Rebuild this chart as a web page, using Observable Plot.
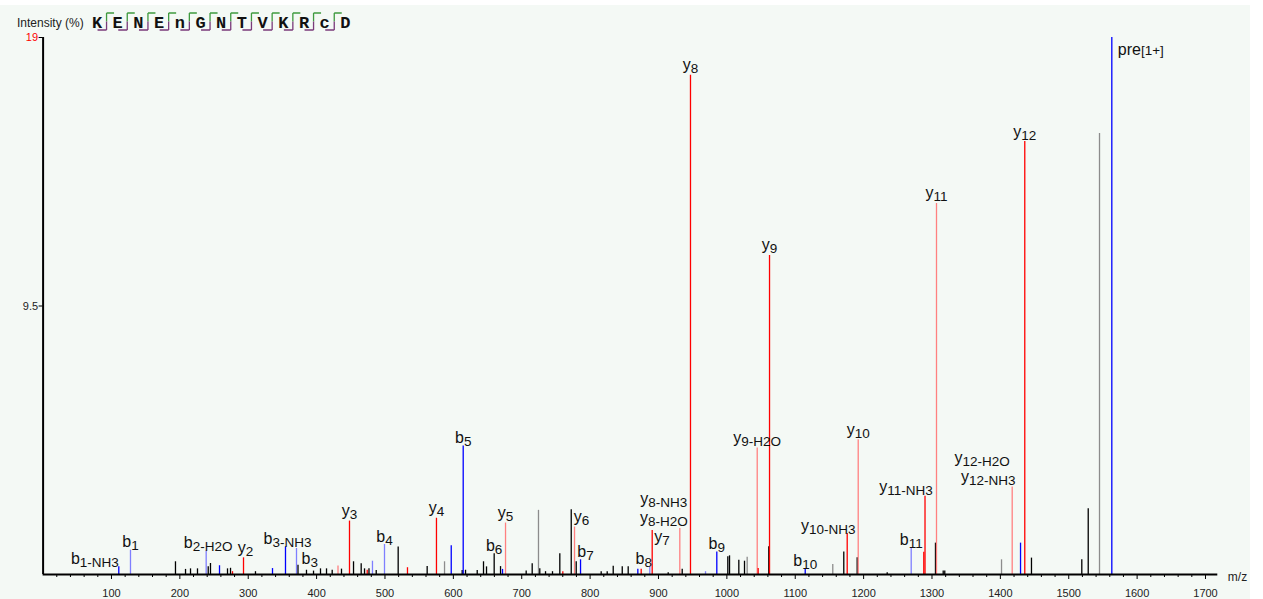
<!DOCTYPE html>
<html>
<head>
<meta charset="utf-8">
<script src="https://cdn.jsdelivr.net/npm/d3@7"></script>
<script src="https://cdn.jsdelivr.net/npm/@observablehq/plot@0.6"></script>
<style>
  html, body { margin: 0; padding: 0; background: #ffffff; }
  #wrap { position: relative; width: 1263px; height: 599px; overflow: hidden; }
  #panel { position: absolute; left: 0; top: 5px; width: 1250px; height: 594px; background: #f4f9f5; }
  #chart { position: absolute; left: 0; top: 0; }
  #head { position: absolute; left: 0; top: 0; }
</style>
</head>
<body>
<div id="wrap">
  <div id="panel"></div>
  <div id="chart"></div>
  <svg id="head" width="420" height="36"></svg>
</div>
<script>
// Peptide sequence shown in the header
const residues = ["K", "E", "N", "E", "n", "G", "N", "T", "V", "K", "R", "c", "D"];

// Spectrum peaks: m/z, relative intensity (%), ion kind
// kinds: y = y-ion, yl = y-ion (secondary), b = b-ion, bl = b-ion (secondary), k = unassigned, g = unassigned (weak)
const peakMz = [
  110.7, 127.8, 193.6, 208.3, 215.6, 225.8, 238.5, 241.5, 244.8, 258.0,
  269.7, 274.1, 277.0, 293.1, 310.6, 335.5, 354.5, 370.6, 372.8, 385.2,
  395.5, 405.7, 414.5, 422.8, 431.3, 436.4, 448.1, 454.0, 465.2, 470.1,
  474.0, 476.6, 481.7, 487.2, 499.3, 519.3, 532.9, 561.7, 575.3, 587.1,
  596.9, 612.9, 614.4, 617.8, 634.9, 644.1, 648.5, 659.7, 669.0, 671.9,
  676.3, 706.5, 715.3, 724.5, 726.4, 734.8, 745.0, 755.7, 760.1, 772.4,
  777.2, 779.7, 786.0, 816.2, 825.0, 833.8, 847.0, 855.7, 869.8, 874.7,
  887.3, 890.8, 914.2, 931.2, 934.7, 946.8, 968.8, 985.3, 1001.4, 1003.9,
  1017.5, 1025.8, 1029.7, 1044.4, 1045.8, 1061.3, 1062.4, 1114.6, 1154.9, 1171.0,
  1176.0, 1190.6, 1192.1, 1234.5, 1269.6, 1288.0, 1289.8, 1305.1, 1306.6, 1316.4,
  1318.7, 1401.7, 1417.3, 1429.5, 1435.7, 1445.5, 1519.1, 1528.5, 1545.0, 1563.0
];
const peakIntensity = [
  0.27, 0.86, 0.45, 0.18, 0.20, 0.20, 0.83, 0.27, 0.39, 0.31,
  0.20, 0.22, 0.10, 0.59, 0.10, 0.21, 0.98, 0.92, 0.33, 0.15,
  0.12, 0.20, 0.20, 0.15, 0.30, 0.19, 1.89, 0.45, 0.38, 0.20,
  0.15, 0.20, 0.47, 0.14, 1.06, 0.97, 0.24, 0.28, 1.99, 0.45,
  1.02, 0.14, 4.55, 0.15, 0.14, 0.45, 0.27, 0.73, 0.28, 0.18,
  1.82, 0.12, 0.38, 2.27, 0.20, 0.10, 0.10, 0.73, 0.10, 2.29,
  1.68, 0.45, 0.52, 0.10, 0.10, 0.29, 0.27, 0.27, 0.19, 0.19,
  0.27, 1.56, 0.06, 1.63, 0.19, 17.66, 0.10, 0.80, 0.63, 0.66,
  0.50, 0.47, 0.61, 4.48, 0.21, 0.98, 11.29, 0.18, 0.35, 0.80,
  1.45, 0.59, 4.77, 0.06, 0.95, 0.79, 2.77, 1.11, 13.13, 0.12,
  0.12, 0.52, 3.10, 1.11, 15.32, 0.58, 0.52, 2.33, 15.60, 19.00
];
const peakKind = [
  "b", "bl", "k", "k", "k", "k", "bl", "k", "k", "b",
  "k", "k", "y", "y", "k", "b", "b", "bl", "k", "k",
  "k", "k", "k", "k", "yl", "k", "y", "k", "k", "k",
  "y", "k", "bl", "k", "bl", "k", "y", "k", "y", "g",
  "b", "k", "b", "k", "k", "k", "k", "k", "k", "b",
  "yl", "k", "k", "g", "k", "k", "k", "k", "y", "k",
  "yl", "k", "b", "k", "k", "k", "k", "k", "b", "y",
  "bl", "y", "k", "yl", "k", "y", "bl", "b", "k", "k",
  "k", "k", "g", "yl", "y", "k", "y", "b", "g", "k",
  "y", "k", "yl", "k", "bl", "y", "y", "k", "yl", "k",
  "k", "g", "yl", "b", "y", "k", "k", "k", "g", "b"
];

// Fragment annotations and the m/z of the peak each one labels
const annText = [
  "b1-NH3", "b1", "b2-H2O", "y2", "b3-NH3", "b3", "y3", "b4", "y4", "b5",
  "b6", "y5", "y6", "b7", "b8", "y7", "y8-NH3", "y8-H2O", "y8", "b9",
  "y9-H2O", "y9", "b10", "y10-NH3", "y10", "b11", "y11-NH3", "y11", "y12-H2O", "y12-NH3",
  "y12", "pre[1+]"
];
const annMz = [
  110.7, 127.8, 238.5, 293.1, 354.5, 370.6, 448.1, 499.3, 575.3, 614.4,
  659.7, 676.3, 777.2, 786.0, 887.3, 890.8, 931.2, 931.2, 946.8, 985.3,
  1044.4, 1062.4, 1114.6, 1176.0, 1192.1, 1269.6, 1289.8, 1306.6, 1417.3, 1417.3,
  1435.7, 1563.0
];

// Axis ticks
const majorTicks = [100, 200, 300, 400, 500, 600, 700, 800, 900, 1000, 1100, 1200, 1300, 1400, 1500, 1600, 1700];
const yTicks = [9.5, 19];

const kindColor = {y: "#ff0000", yl: "#ff8080", b: "#0000ff", bl: "#7f7fff", k: "#000000", g: "#8c8c8c"};
const labelFont = "'Liberation Sans', Arial, Helvetica, sans-serif";

const peaks = peakMz.map((mz, i) => ({mz, intensity: peakIntensity[i], kind: peakKind[i]}));
const minorTicks = d3.range(0, 1720, 20).filter(v => !majorTicks.includes(v) && v > 0);

// text width helper for composing labels with subscripted parts
const ctx = document.createElement("canvas").getContext("2d");
function textWidth(s, size) {
  ctx.font = `${size}px ${labelFont}`;
  return ctx.measureText(s).width;
}

// label placement tweaks (pixels) where the default centred-above placement would collide
const nudge = {
  "b1-NH3": {align: "end", dx: 0},
  "b2-H2O": {dx: 2},
  "y2": {dx: 2},
  "b3-NH3": {dx: 2},
  "b3": {align: "start", dx: 5, dy: 19},
  "y6": {dx: 7},
  "b7": {dx: 5},
  "b8": {dx: -6},
  "y7": {align: "start", dx: 2, dy: 17},
  "y8-NH3": {dx: -16, dy: -19},
  "y8-H2O": {dx: -16},
  "y10-NH3": {dx: -19, dy: 2},
  "y11-NH3": {dx: -19, dy: 1},
  "y12-NH3": {dx: -24},
  "y12-H2O": {dx: -30, dy: -19},
  "pre[1+]": {align: "start", dx: 6, dy: 20}
};

const MAIN = 16, SUB = 13.5;
const labelMarks = [];
annText.forEach((label, i) => {
  const [, head, tail] = label.match(/^(pre|[a-z])(.*)$/);
  const peak = peaks.reduce((a, p) => Math.abs(p.mz - annMz[i]) < Math.abs(a.mz - annMz[i]) ? p : a);
  const datum = {mz: annMz[i], intensity: peak.intensity};
  const n = nudge[label] || {};
  const wHead = textWidth(head, MAIN);
  const wTail = textWidth(tail, SUB);
  const total = wHead + wTail;
  const dx = n.dx || 0;
  const start = n.align === "start" ? dx : n.align === "end" ? dx - total : dx - total / 2;
  const gap = head === "y" ? 5 : 3;
  const base = -gap + (n.dy || 0);
  labelMarks.push(Plot.text([datum], {
    x: "mz", y: "intensity", text: () => head,
    textAnchor: "start", lineAnchor: "bottom",
    dx: start, dy: base, fontSize: MAIN, fontFamily: labelFont, fill: "#111"
  }));
  if (tail) {
    labelMarks.push(Plot.text([datum], {
      x: "mz", y: "intensity", text: () => tail,
      textAnchor: "start", lineAnchor: "bottom",
      dx: start + wHead, dy: base + (head === "pre" ? 0 : 3), fontSize: SUB, fontFamily: labelFont, fill: "#111"
    }));
  }
});

const chart = Plot.plot({
  width: 1263,
  height: 599,
  marginLeft: 42.6,
  marginRight: 45.7,
  marginTop: 37,
  marginBottom: 25,
  style: {background: "transparent", fontFamily: labelFont, color: "#111", overflow: "visible"},
  x: {domain: [0, 1718]},
  y: {domain: [0, 19]},
  marks: [
    Plot.ruleX(peaks, {x: "mz", y1: 0, y2: "intensity", stroke: d => kindColor[d.kind], strokeWidth: 1.3}),
    Plot.axisX({ticks: minorTicks, tickSize: 3, text: null, label: null, stroke: "#000"}),
    Plot.axisX({ticks: majorTicks, tickSize: 5, tickPadding: 9.5, tickFormat: d => `${d}`, label: null, fontSize: 11, fill: "#222", stroke: "#000"}),
    Plot.axisY({ticks: [yTicks[0]], tickSize: 4, tickPadding: 1, tickFormat: d => `${d}`, label: null, fontSize: 11, fill: "#222", stroke: "#000"}),
    Plot.axisY({ticks: [yTicks[1]], tickSize: 4, tickPadding: 1, tickFormat: d => `${d}`, label: null, fontSize: 11, fill: "#ff0000", stroke: "#000"}),
    Plot.ruleY([0], {stroke: "#000", strokeWidth: 2}),
    Plot.ruleX([0], {stroke: "#000", strokeWidth: 2}),
    Plot.text(["m/z"], {frameAnchor: "bottom-right", text: d => d, textAnchor: "start", lineAnchor: "bottom", dx: 10, dy: 6.5, fontSize: 12, fill: "#222"}),
    ...labelMarks
  ]
});
document.getElementById("chart").append(chart);

// Header: y-axis caption and the annotated peptide sequence
const head = d3.select("#head");
head.append("text")
  .attr("x", 17).attr("y", 27)
  .attr("font-family", labelFont).attr("font-size", 12).attr("fill", "#222")
  .text("Intensity (%)");
const step = 20.7, x0 = 97;
residues.forEach((r, i) => {
  head.append("text")
    .attr("x", x0 + i * step).attr("y", 28)
    .attr("text-anchor", "middle")
    .attr("font-family", "'Liberation Mono', 'Courier New', monospace")
    .attr("font-weight", "bold").attr("font-size", 17).attr("fill", "#111")
    .text(r);
});
for (let i = 0; i < residues.length - 1; i++) {
  const sx = x0 + (i + 0.5) * step - 0.8;
  head.append("path").attr("d", `M${sx},13V21.5M${sx},13H${sx + 7.5}`)
    .attr("stroke", "#3f9a3f").attr("stroke-width", 1.3).attr("fill", "none");
  head.append("path").attr("d", `M${sx},21.5V30M${sx},30H${sx - 9}`)
    .attr("stroke", "#7a3a7a").attr("stroke-width", 1.3).attr("fill", "none");
}
</script>
</body>
</html>
